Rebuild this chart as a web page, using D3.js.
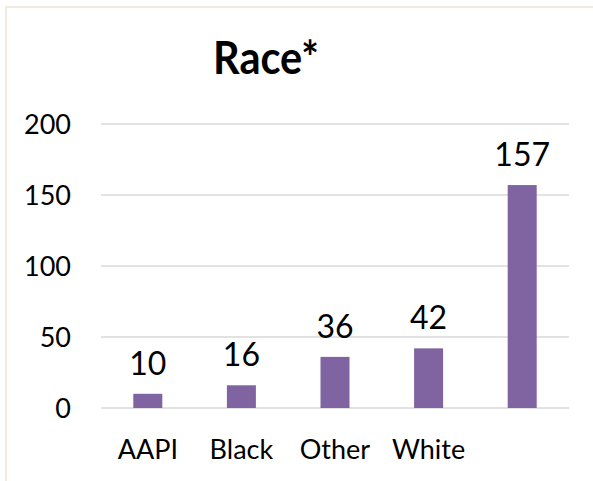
<!DOCTYPE html>
<html>
<head>
<meta charset="utf-8">
<script src="https://cdn.jsdelivr.net/npm/d3@7"></script>
<style>
body { margin:0; background:#fff; }
text { font-family: Lato, "Open Sans", sans-serif; fill:#000; }
</style>
</head>
<body>
<div id="plot"></div>
<script>
// data
var categories = ['AAPI','Black','Other','White',''];
var values = [10,16,36,42,157];
var yTicks = [0,50,100,150,200];
var title = 'Race*';

var W = 593, H = 481;
var margin = {t:124, r:24, b:73, l:101};
var width = W-margin.l-margin.r,
	height = H-margin.t-margin.b;

var svg = d3.select('#plot')
	.append('svg')
	.attr('width',W)
	.attr('height',H);

// frame
svg.append('path')
	.attr('d','M6,'+H+'V7H'+W)
	.attr('fill','none')
	.attr('stroke','#efebe1')
	.attr('stroke-width',2);

svg.append('text')
	.attr('x',266)
	.attr('y',74)
	.attr('text-anchor','middle')
	.style('font-size','45px')
	.style('font-weight','bold')
	.attr('textLength',106)
	.attr('lengthAdjust','spacingAndGlyphs')
	.text(title);

var plot = svg.append('g')
	.attr('transform','translate('+margin.l+','+margin.t+')');

var x = d3.scaleBand().domain(d3.range(values.length)).range([0,width]).paddingInner(0.69).paddingOuter(0.345);
var y = d3.scaleLinear().domain([0,200]).range([height,0]);

// gridlines
plot.selectAll('.grid')
	.data(yTicks)
	.enter()
	.append('line')
	.attr('x1',0).attr('x2',width)
	.attr('y1',function(d){return y(d);})
	.attr('y2',function(d){return y(d);})
	.attr('stroke','#d9d9d9')
	.attr('stroke-width',1.5);

// y tick labels
plot.selectAll('.ytick')
	.data(yTicks)
	.enter()
	.append('text')
	.attr('x',-30)
	.attr('y',function(d){return y(d)+10;})
	.attr('text-anchor','end')
	.style('font-size','27px')
	.text(function(d){return d;});

plot.selectAll('.bar')
	.data(values)
	.enter()
	.append('rect')
	.attr('x',function(d,i){return x(i);})
	.attr('y',function(d){return y(d);})
	.attr('width',x.bandwidth())
	.attr('height',function(d){return height-y(d);})
	.style('fill','#8064a2');

plot.selectAll('.val')
	.data(values)
	.enter()
	.append('text')
	.attr('x',function(d,i){return x(i)+x.bandwidth()/2;})
	.attr('y',function(d){return y(d)-19;})
	.attr('text-anchor','middle')
	.style('font-size','32px')
	.text(function(d){return d;});

plot.selectAll('.cat')
	.data(categories)
	.enter()
	.append('text')
	.attr('x',function(d,i){return x(i)+x.bandwidth()/2;})
	.attr('y',height+51)
	.attr('text-anchor','middle')
	.style('font-size','27px')
	.text(function(d){return d;});
</script>
</body>
</html>
